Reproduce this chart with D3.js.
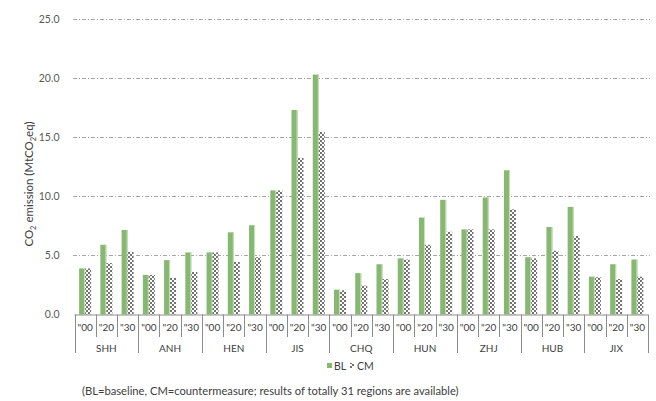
<!DOCTYPE html>
<html>
<head>
<meta charset="utf-8">
<script src="https://cdn.jsdelivr.net/npm/d3@7"></script>
<style>
  html, body { margin: 0; padding: 0; background: #fff; }
  svg { display: block; font-family: Lato, "Open Sans", sans-serif; }
</style>
</head>
<body>
<svg id="chart" width="656" height="401"></svg>
<script>
// Regions and years shown on the two-level category axis
const regions = ["SHH", "ANH", "HEN", "JIS", "CHQ", "HUN", "ZHJ", "HUB", "JIX"];
const years = ["\"00", "\"20", "\"30"];
const seriesNames = ["BL", "CM"];

// Emissions (MtCO2eq), one entry per region × year, in region order
const blValues = [
  3.9, 5.9, 7.15,
  3.35, 4.6, 5.25,
  5.25, 6.95, 7.55,
  10.5, 17.3, 20.3,
  2.1, 3.5, 4.25,
  4.75, 8.2, 9.7,
  7.2, 9.9, 12.2,
  4.85, 7.4, 9.1,
  3.2, 4.25, 4.65
];
const cmValues = [
  3.9, 4.35, 5.3,
  3.35, 3.1, 3.6,
  5.25, 4.45, 4.85,
  10.5, 13.25, 15.45,
  2.05, 2.45, 3.0,
  4.65, 5.9, 7.0,
  7.2, 7.2, 8.9,
  4.75, 5.4, 6.65,
  3.15, 3.0, 3.2
];
const yTicks = [0, 5, 10, 15, 20, 25];

const rows = [];
regions.forEach((r, i) => years.forEach((yr, j) => {
  const k = i * years.length + j;
  rows.push({ key: r + "|" + yr, region: r, year: yr, BL: blValues[k], CM: cmValues[k] });
}));

const svg = d3.select("#chart");
const plotLeft = 74.5, plotRight = 648, plotTop = 19, plotBottom = 314.5;
const textColor = "#404040";

const x = d3.scaleBand().domain(rows.map(d => d.key)).range([plotLeft, plotRight]).padding(0);
const xs = d3.scaleBand().domain(seriesNames).range([0, x.bandwidth()]).paddingOuter(0.77).paddingInner(0);
const y = d3.scaleLinear().domain([0, 25]).range([plotBottom, plotTop]);

// Checker pattern for the countermeasure bars
const defs = svg.append("defs");
const pat = defs.append("pattern").attr("id", "checker")
  .attr("patternUnits", "userSpaceOnUse").attr("width", 4).attr("height", 4);
pat.append("rect").attr("width", 4).attr("height", 4).attr("fill", "#ffffff");
pat.append("rect").attr("x", 0).attr("y", 0).attr("width", 2).attr("height", 2).attr("fill", "#737373");
pat.append("rect").attr("x", 2).attr("y", 2).attr("width", 2).attr("height", 2).attr("fill", "#737373");

// Gridlines
svg.append("g").selectAll("line").data(yTicks.filter(t => t > 0)).join("line")
  .attr("x1", 73).attr("x2", 650)
  .attr("y1", d => Math.round(y(d)) + 0.5).attr("y2", d => Math.round(y(d)) + 0.5)
  .attr("stroke", "#a6a6a6").attr("stroke-width", 1)
  .attr("stroke-dasharray", "4,2,1,2");

// Y axis labels
svg.append("g").attr("transform", `translate(${plotLeft - 12},0)`)
  .call(d3.axisLeft(y).tickValues(yTicks).tickFormat(d3.format(".1f")).tickSize(0))
  .call(g => g.select(".domain").remove())
  .call(g => g.selectAll("text").attr("fill", "#595959").attr("font-size", 10.5)
    .attr("font-family", "Lato, 'Open Sans', sans-serif"));

// Bars
const barG = svg.append("g");
barG.selectAll("rect.bl").data(rows).join("rect").attr("class", "bl")
  .attr("x", d => x(d.key) + xs("BL"))
  .attr("y", d => y(d.BL))
  .attr("width", xs.bandwidth())
  .attr("height", d => plotBottom - y(d.BL))
  .attr("fill", "#87b872");
barG.selectAll("rect.blEdge").data(rows).join("rect").attr("class", "blEdge")
  .attr("x", d => x(d.key) + xs("BL") + xs.bandwidth() - 1)
  .attr("y", d => y(d.BL))
  .attr("width", 1)
  .attr("height", d => plotBottom - y(d.BL))
  .attr("fill", "#c9e2bd");
barG.selectAll("rect.cm").data(rows).join("rect").attr("class", "cm")
  .attr("x", d => x(d.key) + xs("CM"))
  .attr("y", d => y(d.CM))
  .attr("width", xs.bandwidth())
  .attr("height", d => plotBottom - y(d.CM))
  .attr("fill", "url(#checker)");

// Category axis: baseline, separators and labels
const axisG = svg.append("g").attr("stroke", "#8c8c8c").attr("stroke-width", 1);
axisG.append("line").attr("x1", plotLeft).attr("x2", plotRight).attr("y1", plotBottom + 0.5).attr("y2", plotBottom + 0.5);
rows.forEach((d, i) => {
  const xpos = Math.round(x(d.key)) + 0.5;
  axisG.append("line").attr("x1", xpos).attr("x2", xpos)
    .attr("y1", plotBottom).attr("y2", i % 3 === 0 ? 353 : 337);
});
axisG.append("line").attr("x1", Math.round(plotRight) + 0.5).attr("x2", Math.round(plotRight) + 0.5)
  .attr("y1", plotBottom).attr("y2", 353);

svg.append("g").selectAll("text").data(rows).join("text")
  .attr("x", d => x(d.key) + x.bandwidth() / 2)
  .attr("y", 331)
  .attr("text-anchor", "middle")
  .attr("font-size", 10).attr("fill", textColor)
  .text(d => d.year);

svg.append("g").selectAll("text").data(regions).join("text")
  .attr("x", r => x(r + "|" + years[1]) + x.bandwidth() / 2)
  .attr("y", 351.5)
  .attr("text-anchor", "middle")
  .attr("font-size", 10).attr("fill", textColor)
  .text(r => r);

// Y axis title
svg.append("text")
  .attr("transform", "translate(33,184) rotate(-90)")
  .attr("text-anchor", "middle")
  .attr("font-size", 11.5).attr("fill", textColor)
  .html('CO<tspan font-size="7.5" dy="2.5">2</tspan><tspan dy="-2.5"> emission (MtCO</tspan><tspan font-size="7.5" dy="2.5">2</tspan><tspan dy="-2.5">eq)</tspan>');

// Legend
const lg = svg.append("g").attr("font-size", 10.5).attr("fill", textColor);
lg.append("rect").attr("x", 327).attr("y", 363).attr("width", 5).attr("height", 5).attr("fill", "#87b872");
lg.append("text").attr("x", 334).attr("y", 370).text("BL");
lg.append("rect").attr("x", 350).attr("y", 363).attr("width", 4).attr("height", 5).attr("fill", "url(#checker)");
lg.append("text").attr("x", 357).attr("y", 370).text("CM");

// Footnote
svg.append("text").attr("x", 82).attr("y", 394.5)
  .attr("font-size", 11.2).attr("fill", textColor)
  .text("(BL=baseline, CM=countermeasure; results of totally 31 regions are available)");
</script>
</body>
</html>
